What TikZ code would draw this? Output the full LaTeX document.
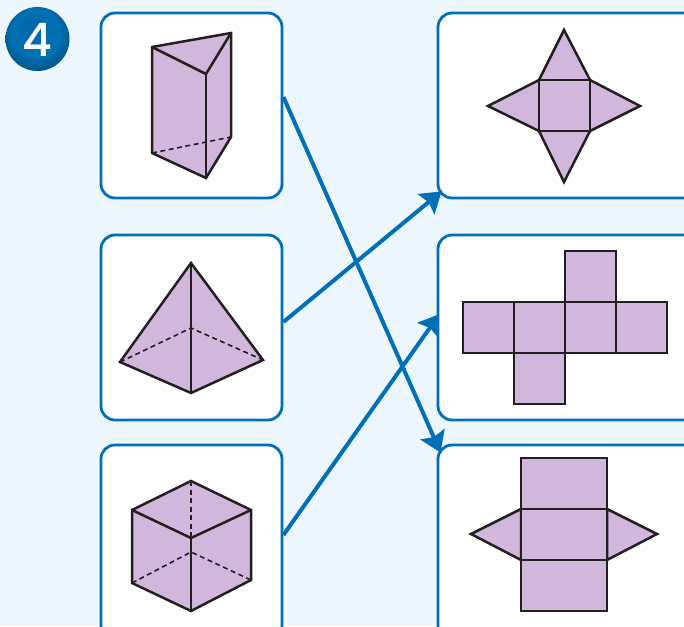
\documentclass[tikz,border=0pt]{standalone}
\usepackage{xcolor}
\usepackage{fontspec}
\setsansfont{Poppins}[UprightFont=* Medium]
\usetikzlibrary{arrows.meta,backgrounds}
\definecolor{pagetint}{HTML}{EDF5FD}
\definecolor{cardblue}{HTML}{0070B4}
\definecolor{solidfill}{HTML}{D0B8DC}
\definecolor{inkline}{HTML}{231F20}
\pgfdeclareradialshading{badgeball}{\pgfpoint{-2pt}{7pt}}{
    color(0pt)=(cardblue!92!black);
    color(18pt)=(cardblue);
    color(27pt)=(cardblue!80!black);
    color(37pt)=(cardblue!30!black);
    color(50pt)=(black)}
\tikzset{
    card/.style={draw=cardblue, fill=white, line width=2.8pt, rounded corners=14pt,
        minimum height=185pt, inner sep=0pt},
    leftcard/.style={card, minimum width=181pt},
    rightcard/.style={card, minimum width=262pt},
    tallcard/.style={minimum height=195pt},
    solid body/.style={fill=solidfill, draw=inkline, line width=2.5pt, line join=miter},
    edgeline/.style={draw=inkline, line width=2.5pt},
    hidden/.style={draw=inkline, line width=1.6pt, dash pattern=on 5pt off 3.5pt},
    match/.style={draw=cardblue, line width=4pt,
        -{Stealth[length=20pt,width=26pt,inset=3pt]}}
}
\begin{document}
\begin{tikzpicture}[x=1pt,y=-1pt]
    \useasboundingbox (0,0) rectangle (684,626);
    \clip (0,0) rectangle (684,626);
    % badge
    \shade[shading=badgeball] (37.5,39) circle (32);
    \node[text=white, font=\sffamily\fontsize{46}{46}\selectfont] (badge) at (37.5,40) {4};
    % cards
    \node[leftcard] (prism) at (191.5,105.5) {};
    \node[leftcard] (pyramid) at (191.5,327.5) {};
    \node[leftcard, tallcard] (cube) at (191.5,542.5) {};
    \node[rightcard] (netone) at (569,105.5) {};
    \node[rightcard] (nettwo) at (569,327.5) {};
    \node[rightcard, tallcard] (netthree) at (569,542.5) {};
    % prism
    \draw[solid body] (152,47) -- (231,33) -- (231,137) -- (206,178) -- (152,153) -- cycle;
    \draw[edgeline] (152,47) -- (206,74) -- (231,33);
    \draw[edgeline] (206,74) -- (206,178);
    \draw[hidden] (152,153) -- (231,137);
    % pyramid
    \draw[solid body] (191,263) -- (263,360) -- (191,393) -- (120,362) -- cycle;
    \draw[edgeline] (191,263) -- (191,393);
    \draw[hidden] (120,362) -- (191,328) -- (263,360);
    % cube
    \draw[solid body] (191,481) -- (251,510) -- (251,580) -- (191,611) -- (132,583) -- (132,510) -- cycle;
    \draw[edgeline] (132,510) -- (191,538) -- (251,510);
    \draw[edgeline] (191,538) -- (191,611);
    \draw[hidden] (191,481) -- (191,538);
    \draw[hidden] (132,583) -- (191,552) -- (251,580);
    % net with four triangles
    \draw[solid body] (564,30) -- (590,80) -- (640,106) -- (590,131) -- (564,182) -- (539,131) -- (488,106) -- (539,80) -- cycle;
    \draw[edgeline] (539,80) rectangle (590,131);
    % net with six squares
    \foreach \x in {463,514,565,616}
        \draw[solid body] (\x,302) rectangle ++(51,51);
    \draw[solid body] (565,251) rectangle ++(51,51);
    \draw[solid body] (514,353) rectangle ++(51,51);
    % net with two triangles
    \draw[solid body] (521,509) -- (471,534) -- (521,560) -- cycle;
    \draw[solid body] (607,509) -- (657,534) -- (607,560) -- cycle;
    \foreach \y in {458,509,560}
        \draw[solid body] (521,\y) rectangle ++(86,51);
    % matching arrows, tips go under the cards
    \begin{scope}[on background layer]
        \fill[pagetint] (0,0) rectangle (684,626);
        \draw[match] ([yshift=8.5pt]prism.east) -- ([xshift=4pt,yshift=-9pt]netthree.north west);
        \draw[match] ([yshift=5.5pt]pyramid.east) -- ([xshift=5pt,yshift=8pt]netone.south west);
        \draw[match] ([yshift=7.5pt]cube.east) -- ([xshift=3pt,yshift=13.5pt]nettwo.west);
    \end{scope}
\end{tikzpicture}
\end{document}
